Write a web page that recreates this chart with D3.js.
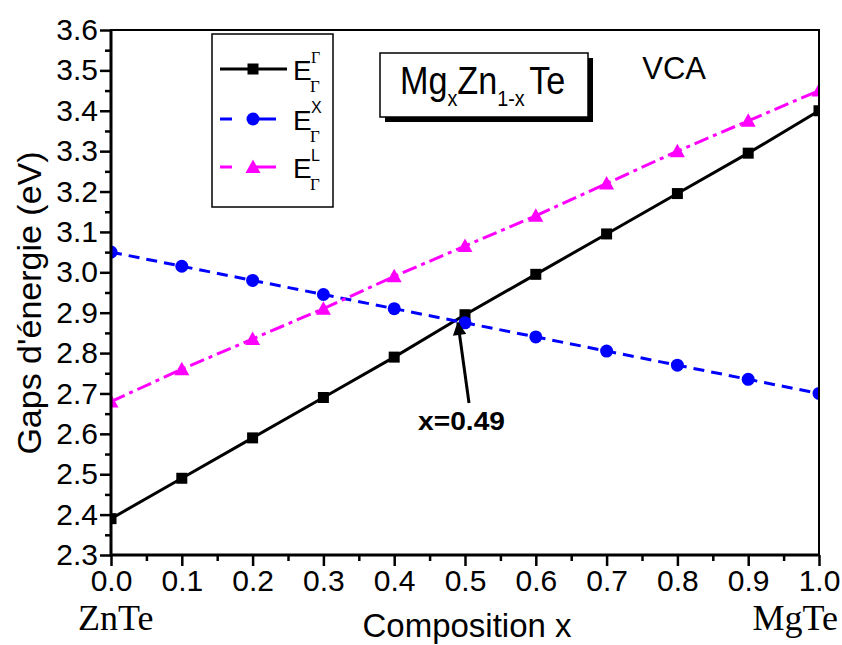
<!DOCTYPE html>
<html>
<head>
<meta charset="utf-8">
<script src="https://cdn.jsdelivr.net/npm/d3@7"></script>
<style>
  body { margin: 0; background: #fff; }
  svg { display: block; font-family: "Liberation Sans", Arial, sans-serif; }
</style>
</head>
<body>
<svg id="chart" width="842" height="645"></svg>
<script>
// composition x
var compositions = [0, 0.1, 0.2, 0.3, 0.4, 0.5, 0.6, 0.7, 0.8, 0.9, 1.0]
// gaps (eV)
var gammaGap = [2.39, 2.49, 2.59, 2.69, 2.79, 2.895, 2.995, 3.095, 3.195, 3.295, 3.40]
var xGap = [3.05, 3.015, 2.98, 2.945, 2.91, 2.875, 2.84, 2.805, 2.77, 2.735, 2.70]
var lGap = [2.68, 2.76, 2.835, 2.91, 2.99, 3.065, 3.14, 3.22, 3.30, 3.375, 3.45]

var xTicks = d3.range(0, 11).map(function(i){ return i / 10 })
var yTicks = d3.range(23, 37).map(function(i){ return i / 10 })
var crossing = {x: 0.49, y: 2.88, label: "x=0.49"}

var SANS = "'Liberation Sans', Arial, sans-serif"
var SERIF = "'Liberation Serif', 'Times New Roman', serif"

var series = [
  {name: "Γ", values: gammaGap, colour: "#000", dash: null, marker: "square"},
  {name: "X", values: xGap, colour: "#0000ff", dash: "11,7", marker: "circle"},
  {name: "L", values: lGap, colour: "#ff00ff", dash: "15,5,4,5", marker: "triangle"}
]

var svg = d3.select("#chart")

var x = d3.scaleLinear().domain([0, 1]).range([111, 819])
var y = d3.scaleLinear().domain([2.3, 3.6]).range([555, 30])

// clip so the end markers are cut by the frame, like the original
svg.append("clipPath").attr("id", "plotclip")
  .append("rect")
  .attr("x", x(0)).attr("y", y(3.6))
  .attr("width", x(1) - x(0)).attr("height", y(2.3) - y(3.6))

var plot = svg.append("g").attr("clip-path", "url(#plotclip)")

var line = d3.line()
  .x(function(d, i){ return x(compositions[i]) })
  .y(function(d){ return y(d) })

function drawMarker(sel, type, colour){
  if (type == "square") {
    sel.append("rect").attr("x", -5.5).attr("y", -5.5).attr("width", 11).attr("height", 11).attr("fill", colour)
  } else if (type == "circle") {
    sel.append("circle").attr("r", 6.5).attr("fill", colour)
  } else {
    sel.append("path").attr("d", "M0,-7.5L7.5,6L-7.5,6Z").attr("fill", colour)
  }
}

series.forEach(function(s){
  plot.append("path")
    .datum(s.values)
    .attr("d", line)
    .attr("fill", "none")
    .attr("stroke", s.colour)
    .attr("stroke-width", 3)
    .attr("stroke-dasharray", s.dash)

  plot.selectAll(null)
    .data(s.values)
    .enter()
    .append("g")
    .attr("transform", function(d, i){ return "translate(" + x(compositions[i]) + "," + y(d) + ")" })
    .each(function(){ drawMarker(d3.select(this), s.marker, s.colour) })
})

/*
  Axes
*/

var xMinor = d3.range(0, 10).map(function(i){ return i / 10 + 0.05 })
var yMinor = d3.range(23, 36).map(function(i){ return i / 10 + 0.05 })

svg.append("g").attr("transform", "translate(0," + y(2.3) + ")")
  .call(d3.axisBottom(x).tickValues(xTicks).tickSize(11).tickPadding(4).tickFormat(d3.format(".1f")))
svg.append("g").attr("transform", "translate(0," + y(2.3) + ")")
  .call(d3.axisBottom(x).tickValues(xMinor).tickSize(6).tickFormat(""))

svg.append("g").attr("transform", "translate(" + x(0) + ",0)")
  .call(d3.axisLeft(y).tickValues(yTicks).tickSize(11).tickPadding(2).tickFormat(d3.format(".1f")))
svg.append("g").attr("transform", "translate(" + x(0) + ",0)")
  .call(d3.axisLeft(y).tickValues(yMinor).tickSize(6).tickFormat(""))

svg.selectAll(".domain").remove()
svg.selectAll(".tick line").attr("stroke", "#000").attr("stroke-width", 2.5)
svg.selectAll(".tick text")
  .style("font-size", "30px")
  .style("font-family", SANS)
  .attr("fill", "#000")

// frame
svg.append("rect")
  .attr("x", x(0)).attr("y", y(3.6))
  .attr("width", x(1) - x(0)).attr("height", y(2.3) - y(3.6))
  .attr("fill", "none").attr("stroke", "#000").attr("stroke-width", 2)
svg.append("path")
  .attr("d", "M" + x(0) + "," + y(3.6) + "V" + y(2.3) + "H" + x(1))
  .attr("fill", "none").attr("stroke", "#000").attr("stroke-width", 3)

// axis titles
svg.append("text")
  .attr("transform", "translate(41," + 303 + ") rotate(-90)")
  .attr("text-anchor", "middle")
  .style("font-size", "34px")
  .text("Gaps d'énergie (eV)")

svg.append("text")
  .attr("x", 467).attr("y", 637)
  .attr("text-anchor", "middle")
  .style("font-size", "33px")
  .text("Composition x")

svg.append("text")
  .attr("x", 78).attr("y", 630)
  .style("font-family", SERIF)
  .style("font-size", "36px")
  .text("ZnTe")

svg.append("text")
  .attr("x", 838).attr("y", 630)
  .attr("text-anchor", "end")
  .style("font-family", SERIF)
  .style("font-size", "36px")
  .text("MgTe")

/*
  Legend
*/

var legend = svg.append("g")
legend.append("rect")
  .attr("x", 212).attr("y", 34).attr("width", 121).attr("height", 173)
  .attr("fill", "#fff").attr("stroke", "#000").attr("stroke-width", 1.5)

var legendRows = [69, 119, 167]

series.forEach(function(s, i){
  var ry = legendRows[i]
  var row = legend.append("g").attr("transform", "translate(0," + ry + ")")
  row.append("line")
    .attr("x1", 220).attr("x2", 287).attr("y1", 0).attr("y2", 0)
    .attr("stroke", s.colour).attr("stroke-width", 3)
    .attr("stroke-dasharray", s.dash ? "12,20,24" : null)
  var m = row.append("g").attr("transform", "translate(253,0)")
  drawMarker(m, s.marker, s.colour)
  row.append("text")
    .attr("x", 293).attr("y", 11)
    .style("font-size", "28px")
    .text("E")
  row.append("text")
    .attr("x", 311).attr("y", -6)
    .style("font-size", "16px")
    .style("font-family", s.name == "Γ" ? SERIF : SANS)
    .text(s.name)
  row.append("text")
    .attr("x", 310).attr("y", 23)
    .style("font-size", "17px")
    .style("font-family", SERIF)
    .text("Γ")
})

/*
  Title box
*/

svg.append("rect")
  .attr("x", 385).attr("y", 58).attr("width", 208).attr("height", 64)
  .attr("fill", "#000")
svg.append("rect")
  .attr("x", 380).attr("y", 53).attr("width", 208).attr("height", 64)
  .attr("fill", "#fff").attr("stroke", "#000").attr("stroke-width", 1.5)

var title = svg.append("text")
  .attr("transform", "translate(400,94) scale(0.9,1)")
  .style("font-size", "38px")
title.append("tspan").text("Mg")
title.append("tspan").style("font-size", "22px").attr("dy", 12).text("x")
title.append("tspan").attr("dy", -12).text("Zn")
title.append("tspan").style("font-size", "22px").attr("dy", 12).text("1-x")
title.append("tspan").attr("dy", -12).attr("dx", 5).text("Te")

svg.append("text")
  .attr("x", 706).attr("y", 79)
  .attr("text-anchor", "end")
  .style("font-size", "31px")
  .text("VCA")

/*
  Crossing annotation
*/

svg.append("defs").append("marker")
  .attr("id", "arrowhead")
  .attr("viewBox", "0 0 10 10")
  .attr("refX", 9).attr("refY", 5)
  .attr("markerWidth", 6).attr("markerHeight", 4.5)
  .attr("markerUnits", "strokeWidth")
  .attr("orient", "auto")
  .append("path").attr("d", "M0,0L10,5L0,10Z").attr("fill", "#000")

svg.append("line")
  .attr("x1", 469).attr("y1", 403)
  .attr("x2", x(crossing.x)).attr("y2", y(crossing.y) + 2)
  .attr("stroke", "#000").attr("stroke-width", 3)
  .attr("marker-end", "url(#arrowhead)")

svg.append("text")
  .attr("x", 418).attr("y", 430)
  .style("font-size", "25px")
  .style("font-weight", "bold")
  .attr("textLength", 87)
  .attr("lengthAdjust", "spacingAndGlyphs")
  .text(crossing.label)
</script>
</body>
</html>
